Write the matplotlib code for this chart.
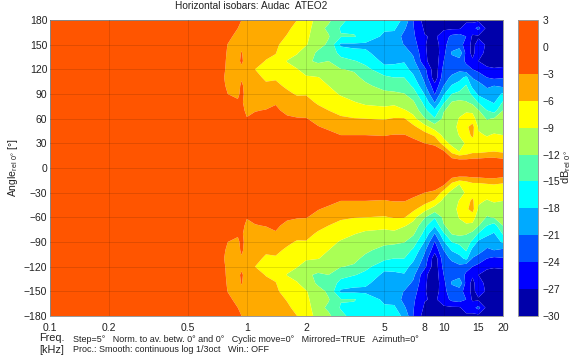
import numpy as np
import matplotlib
matplotlib.use("Agg")
import matplotlib.pyplot as plt

plt.rcParams['font.family'] = ['Liberation Sans', 'DejaVu Sans']
plt.rcParams['mathtext.fontset'] = 'custom'
plt.rcParams['mathtext.rm'] = 'Liberation Sans'

text_color = '#222222'

freqs_khz = [0.1, 0.7, 0.8, 0.9, 0.94, 1.0, 1.1, 1.25, 1.4, 1.6, 1.8, 2.0, 2.3, 2.6, 3.0, 3.5,
             4.0, 5.0, 5.6, 6.3, 7.0, 8.0, 9.0, 10.0, 11.0, 12.0, 13.0, 14.0, 15.0, 16.6, 18.0, 20.0]
angles_deg = [0, 10, 20, 30, 40, 50, 60, 70, 80, 90, 100, 110, 120, 130, 140, 150, 160, 170, 180]

# one row per frequency, 0 to 180 deg, the other half is mirrored
level_db = [
    [-0.5, -0.5, -0.5, -0.5, -0.5, -0.5, -0.5, -0.5, -0.5, -0.5, -0.5, -0.5, -0.5, -0.5, -0.5, -0.5, -0.5, -0.5, -0.5],
    [-0.5, -0.5, -0.5, -0.6, -0.7, -0.8, -0.9, -1.0, -1.2, -1.4, -1.6, -1.8, -1.7, -1.7, -1.6, -1.6, -1.5, -1.2, -1.0],
    [-0.5, -0.5, -0.6, -0.7, -0.8, -1.0, -1.2, -1.5, -2.2, -3.0, -3.4, -3.6, -3.4, -3.3, -3.2, -3.05, -2.6, -2.0, -1.8],
    [-0.7, -0.7, -0.8, -0.9, -1.1, -1.4, -1.8, -2.3, -2.8, -3.3, -3.5, -3.6, -3.6, -3.4, -3.5, -3.6, -3.5, -3.0, -2.6],
    [-0.7, -0.7, -0.8, -1.0, -1.2, -1.5, -2.0, -2.5, -2.8, -2.6, -2.7, -3.2, -3.4, -2.7, -2.9, -3.4, -3.5, -3.4, -3.0],
    [-0.8, -0.8, -0.9, -1.0, -1.2, -1.8, -2.9, -3.4, -3.6, -3.6, -3.8, -4.0, -4.0, -3.9, -3.9, -3.9, -3.9, -3.5, -3.1],
    [-0.8, -0.8, -0.9, -1.1, -1.4, -1.8, -2.5, -3.1, -4.0, -5.0, -6.0, -5.5, -6.0, -5.3, -4.8, -4.8, -4.7, -4.5, -4.2],
    [-0.9, -0.9, -1.0, -1.2, -1.5, -1.9, -2.3, -2.9, -3.8, -4.8, -5.7, -6.3, -6.2, -6.1, -5.5, -5.4, -5.3, -5.0, -4.6],
    [-1.0, -1.0, -1.1, -1.3, -1.6, -2.0, -2.4, -2.8, -3.1, -4.3, -5.4, -6.3, -7.0, -6.6, -5.9, -5.6, -5.4, -5.1, -4.8],
    [-1.0, -1.0, -1.1, -1.3, -1.6, -2.2, -2.8, -3.3, -4.2, -5.4, -6.5, -7.5, -8.3, -9.1, -8.0, -7.0, -6.1, -5.7, -5.5],
    [-1.0, -1.0, -1.1, -1.4, -1.7, -2.2, -2.9, -3.6, -4.9, -6.3, -7.0, -8.0, -8.9, -10.0, -8.8, -8.0, -7.3, -6.5, -6.0],
    [-1.0, -1.0, -1.2, -1.5, -1.8, -2.4, -2.9, -4.0, -5.0, -6.2, -7.5, -8.7, -10.0, -11.5, -10.5, -8.8, -8.0, -7.5, -7.0],
    [-1.2, -1.2, -1.3, -1.6, -2.0, -2.9, -3.7, -5.0, -6.5, -7.5, -8.2, -8.9, -10.5, -12.5, -12.5, -11.0, -11.8, -11.2, -10.5],
    [-1.2, -1.2, -1.4, -1.7, -2.4, -3.4, -4.3, -6.0, -7.4, -8.4, -9.0, -9.8, -10.8, -12.0, -13.0, -12.5, -11.8, -12.5, -11.5],
    [-1.3, -1.3, -1.5, -2.0, -3.0, -4.2, -5.5, -7.0, -8.3, -9.2, -10.2, -11.0, -11.9, -14.0, -16.0, -18.6, -14.8, -15.3, -14.0],
    [-1.3, -1.4, -1.6, -2.1, -3.0, -4.4, -5.9, -7.3, -8.9, -9.9, -10.6, -11.4, -12.3, -14.8, -17.3, -18.6, -14.8, -15.6, -16.5],
    [-1.4, -1.5, -1.7, -2.2, -3.0, -4.5, -6.0, -8.0, -9.5, -10.5, -11.5, -12.6, -14.2, -15.8, -17.5, -18.6, -16.0, -15.6, -16.8],
    [-1.4, -1.5, -1.7, -2.2, -3.1, -4.8, -6.2, -8.3, -9.8, -11.3, -13.0, -14.4, -17.0, -18.8, -19.5, -19.3, -18.7, -17.5, -17.0],
    [-1.4, -1.5, -1.7, -2.1, -2.9, -4.6, -5.8, -8.0, -9.6, -11.4, -13.5, -15.0, -17.0, -18.6, -19.6, -20.0, -19.0, -17.5, -17.0],
    [-1.4, -1.5, -1.6, -2.0, -2.9, -4.6, -5.8, -8.7, -11.0, -11.9, -13.5, -15.0, -17.0, -18.2, -19.7, -21.1, -22.0, -20.5, -18.5],
    [-1.5, -1.6, -1.7, -2.3, -3.5, -5.3, -8.1, -10.0, -11.6, -13.5, -15.5, -17.4, -19.0, -20.2, -21.5, -22.7, -23.5, -23.8, -24.0],
    [-1.5, -1.6, -2.2, -3.0, -4.7, -8.0, -11.8, -14.3, -16.0, -18.2, -20.5, -21.9, -23.2, -26.3, -26.5, -26.7, -26.8, -27.5, -28.5],
    [-1.5, -1.7, -2.2, -3.3, -6.5, -10.5, -14.8, -17.5, -21.2, -24.2, -26.0, -29.0, -29.0, -29.0, -29.0, -29.0, -27.5, -27.5, -29.0],
    [-1.5, -1.7, -2.5, -7.5, -10.0, -10.8, -11.3, -12.2, -15.5, -18.3, -21.0, -22.0, -23.0, -24.0, -24.8, -24.5, -25.5, -27.5, -28.5],
    [-1.5, -2.0, -7.0, -10.0, -11.0, -11.0, -10.8, -10.9, -11.8, -15.0, -17.7, -20.5, -22.0, -22.5, -20.5, -23.0, -23.2, -27.5, -28.5],
    [-1.7, -2.7, -9.0, -10.5, -8.8, -7.7, -8.8, -10.0, -11.3, -14.2, -16.7, -19.0, -21.7, -22.5, -18.5, -23.0, -22.5, -27.5, -28.5],
    [-1.8, -2.7, -8.0, -8.5, -7.0, -6.5, -7.5, -9.5, -11.8, -13.5, -14.7, -17.2, -23.0, -24.5, -25.0, -25.0, -24.0, -25.0, -28.0],
    [-1.8, -2.4, -6.8, -7.0, -5.5, -5.0, -7.5, -9.8, -12.8, -15.7, -19.0, -21.2, -24.0, -26.5, -28.0, -28.0, -27.5, -25.0, -28.0],
    [-1.8, -2.3, -6.8, -7.5, -8.6, -9.4, -10.8, -11.8, -15.3, -18.6, -20.0, -22.0, -25.0, -27.0, -25.0, -25.5, -27.5, -23.0, -28.0],
    [-1.8, -2.0, -6.3, -8.0, -9.2, -11.0, -12.2, -15.0, -17.3, -19.8, -21.5, -24.0, -26.5, -28.0, -28.5, -27.5, -28.5, -28.0, -28.5],
    [-1.8, -2.0, -6.0, -7.7, -8.7, -10.3, -11.8, -16.3, -18.3, -19.6, -21.0, -24.6, -26.8, -28.0, -28.5, -28.5, -28.5, -28.5, -28.5],
    [-2.0, -2.5, -6.5, -7.8, -9.0, -9.7, -10.8, -12.0, -14.7, -17.5, -21.7, -24.2, -26.6, -28.0, -28.5, -28.5, -28.8, -29.0, -29.0],
]

db_levels = [-30, -27, -24, -21, -18, -15, -12, -9, -6, -3, 0, 3]
band_colors = ['#0000AA', '#0000FF', '#0055FF', '#00AAFF', '#00FFFF', '#55FFAA',
               '#AAFF55', '#FFFF00', '#FFAA00', '#FF5500', '#FF5500']
freq_ticks = [0.1, 0.2, 0.5, 1, 2, 5, 8, 10, 15, 20]
freq_labels = ['0.1', '0.2', '0.5', '1', '2', '5', '8', '10', '15', '20']
angle_ticks = list(range(-180, 181, 30))


def main():
    upper = np.array(level_db)
    z = np.hstack([upper[:, :0:-1], upper])
    angles = np.array(angles_deg)
    y = np.concatenate([-angles[:0:-1], angles])

    fig = plt.figure(figsize=(5.8, 3.58), dpi=100)
    ax = fig.add_axes([50 / 580, 1 - 316 / 358, 453 / 580, 296 / 358])
    cax = fig.add_axes([518 / 580, 1 - 316 / 358, 20 / 580, 296 / 358])

    cs = ax.contourf(freqs_khz, y, z.T, levels=db_levels, colors=band_colors, antialiased=True)
    ax.set_xscale('log')
    ax.set_xlim(0.1, 20)
    ax.set_ylim(-180, 180)
    ax.set_xticks(freq_ticks)
    ax.set_xticklabels(freq_labels)
    ax.minorticks_off()
    ax.set_yticks(angle_ticks)
    ax.tick_params(length=0, labelsize=7.5, colors=text_color)
    ax.tick_params(axis='x', pad=5)
    ax.tick_params(axis='y', pad=2)
    ax.grid(True, color='black', alpha=0.12, lw=0.7)
    ax.set_axisbelow(False)
    for s in ax.spines.values():
        s.set_color('#999999')
        s.set_linewidth(0.7)

    cb = fig.colorbar(cs, cax=cax)
    cb.set_ticks(db_levels)
    cb.ax.tick_params(length=0, labelsize=7.5, colors=text_color, pad=3)
    cb.outline.set_edgecolor('#999999')
    cb.outline.set_linewidth(0.7)

    fig.text(251 / 580, 1 - 6 / 358, 'Horizontal isobars: Audac  ATEO2', ha='center', va='center',
             fontsize=7.3, color=text_color)
    fig.text(13 / 580, 1 - 168 / 358, r'Angle$_{\mathrm{rel\ 0°}}$ [°]', rotation=90, ha='center', va='center',
             fontsize=7.5, color=text_color)
    fig.text(566 / 580, 1 - 167 / 358, r'dB$_{\mathrm{rel\ 0°}}$', rotation=90, ha='center', va='center',
             fontsize=8, color=text_color)
    fig.text(39 / 580, 1 - 338 / 358, 'Freq.', ha='left', va='center', fontsize=7.8, color=text_color)
    fig.text(39 / 580, 1 - 350 / 358, '[kHz]', ha='left', va='center', fontsize=7.8, color=text_color)
    fig.text(73 / 580, 1 - 339 / 358, 'Step=5°   Norm. to av. betw. 0° and 0°   Cyclic move=0°   Mirrored=TRUE   Azimuth=0°',
             ha='left', va='center', fontsize=6.5, color=text_color)
    fig.text(73 / 580, 1 - 349 / 358, 'Proc.: Smooth: continuous log 1/3oct   Win.: OFF',
             ha='left', va='center', fontsize=6.5, color=text_color)

    fig.savefig('out.png', dpi=100)


if __name__ == '__main__':
    main()
